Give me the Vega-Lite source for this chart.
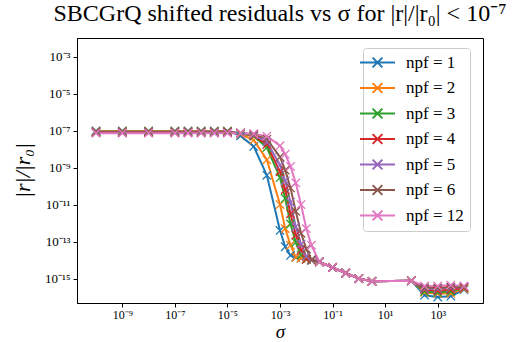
{
"$schema": "https://vega.github.io/schema/vega-lite/v6.json",
"width": 406, "height": 265,
"autosize": {"type": "none"},
"padding": {"left": 77, "top": 38, "right": 42, "bottom": 39},
"background": "white",
"title": {"text": "SBCGrQ shifted residuals vs σ for |r|/|r₀| < 10⁻⁷", "font": "Liberation Serif", "fontSize": 24, "fontWeight": "normal", "color": "black", "offset": 12, "anchor": "middle"},
"config": {"view": {"stroke": "black", "strokeWidth": 1}},
"data": {"values": [
{"sigma":1e-10,"npf":"npf = 1","res":9.55e-8},{"sigma":1e-9,"npf":"npf = 1","res":9.55e-8},{"sigma":1e-8,"npf":"npf = 1","res":9.55e-8},{"sigma":1e-7,"npf":"npf = 1","res":9.55e-8},{"sigma":3.16e-7,"npf":"npf = 1","res":9.55e-8},{"sigma":1e-6,"npf":"npf = 1","res":9.55e-8},{"sigma":3.16e-6,"npf":"npf = 1","res":9.55e-8},{"sigma":1e-5,"npf":"npf = 1","res":9.55e-8},{"sigma":3.16e-5,"npf":"npf = 1","res":5.13e-8},{"sigma":1e-4,"npf":"npf = 1","res":1.38e-8},{"sigma":3.16e-4,"npf":"npf = 1","res":3.8e-10},{"sigma":1e-3,"npf":"npf = 1","res":3.98e-13},{"sigma":1.58e-3,"npf":"npf = 1","res":5.25e-14},{"sigma":2.51e-3,"npf":"npf = 1","res":1.78e-14},{"sigma":3.98e-3,"npf":"npf = 1","res":1.41e-14},{"sigma":6.31e-3,"npf":"npf = 1","res":1.26e-14},{"sigma":1e-2,"npf":"npf = 1","res":1.12e-14},{"sigma":1.58e-2,"npf":"npf = 1","res":1e-14},{"sigma":3.16e-2,"npf":"npf = 1","res":7.94e-15},{"sigma":0.1,"npf":"npf = 1","res":3.98e-15},{"sigma":0.316,"npf":"npf = 1","res":2.0e-15},{"sigma":1,"npf":"npf = 1","res":1e-15},{"sigma":3.16,"npf":"npf = 1","res":7.08e-16},{"sigma":100,"npf":"npf = 1","res":7.59e-16},{"sigma":316,"npf":"npf = 1","res":1.26e-16},{"sigma":1000,"npf":"npf = 1","res":1e-16},{"sigma":3162,"npf":"npf = 1","res":1.12e-16},{"sigma":10000,"npf":"npf = 1","res":2.51e-16},
{"sigma":1e-10,"npf":"npf = 2","res":9.12e-8},{"sigma":1e-9,"npf":"npf = 2","res":9.12e-8},{"sigma":1e-8,"npf":"npf = 2","res":9.12e-8},{"sigma":1e-7,"npf":"npf = 2","res":9.12e-8},{"sigma":3.16e-7,"npf":"npf = 2","res":9.12e-8},{"sigma":1e-6,"npf":"npf = 2","res":9.12e-8},{"sigma":3.16e-6,"npf":"npf = 2","res":9.12e-8},{"sigma":1e-5,"npf":"npf = 2","res":9.12e-8},{"sigma":3.16e-5,"npf":"npf = 2","res":6.31e-8},{"sigma":1e-4,"npf":"npf = 2","res":3.02e-8},{"sigma":3.16e-4,"npf":"npf = 2","res":2.63e-9},{"sigma":1e-3,"npf":"npf = 2","res":1e-11},{"sigma":1.58e-3,"npf":"npf = 2","res":5.01e-13},{"sigma":2.51e-3,"npf":"npf = 2","res":6.31e-14},{"sigma":3.98e-3,"npf":"npf = 2","res":1.41e-14},{"sigma":6.31e-3,"npf":"npf = 2","res":1.26e-14},{"sigma":1e-2,"npf":"npf = 2","res":1.12e-14},{"sigma":1.58e-2,"npf":"npf = 2","res":1e-14},{"sigma":3.16e-2,"npf":"npf = 2","res":7.94e-15},{"sigma":0.1,"npf":"npf = 2","res":3.98e-15},{"sigma":0.316,"npf":"npf = 2","res":2.0e-15},{"sigma":1,"npf":"npf = 2","res":1e-15},{"sigma":3.16,"npf":"npf = 2","res":7.08e-16},{"sigma":100,"npf":"npf = 2","res":7.59e-16},{"sigma":316,"npf":"npf = 2","res":1.78e-16},{"sigma":1000,"npf":"npf = 2","res":1.58e-16},{"sigma":3162,"npf":"npf = 2","res":1.58e-16},{"sigma":10000,"npf":"npf = 2","res":2.82e-16},
{"sigma":1e-10,"npf":"npf = 3","res":8.71e-8},{"sigma":1e-9,"npf":"npf = 3","res":8.71e-8},{"sigma":1e-8,"npf":"npf = 3","res":8.71e-8},{"sigma":1e-7,"npf":"npf = 3","res":8.71e-8},{"sigma":3.16e-7,"npf":"npf = 3","res":8.71e-8},{"sigma":1e-6,"npf":"npf = 3","res":8.71e-8},{"sigma":3.16e-6,"npf":"npf = 3","res":8.71e-8},{"sigma":1e-5,"npf":"npf = 3","res":8.71e-8},{"sigma":3.16e-5,"npf":"npf = 3","res":7.08e-8},{"sigma":1e-4,"npf":"npf = 3","res":4.9e-8},{"sigma":3.16e-4,"npf":"npf = 3","res":1.2e-8},{"sigma":1e-3,"npf":"npf = 3","res":2.82e-10},{"sigma":1.58e-3,"npf":"npf = 3","res":2.14e-11},{"sigma":2.51e-3,"npf":"npf = 3","res":8.91e-13},{"sigma":3.98e-3,"npf":"npf = 3","res":9.12e-14},{"sigma":6.31e-3,"npf":"npf = 3","res":1.86e-14},{"sigma":1e-2,"npf":"npf = 3","res":1.12e-14},{"sigma":1.58e-2,"npf":"npf = 3","res":1e-14},{"sigma":3.16e-2,"npf":"npf = 3","res":7.94e-15},{"sigma":0.1,"npf":"npf = 3","res":3.98e-15},{"sigma":0.316,"npf":"npf = 3","res":2.0e-15},{"sigma":1,"npf":"npf = 3","res":1e-15},{"sigma":3.16,"npf":"npf = 3","res":7.08e-16},{"sigma":100,"npf":"npf = 3","res":7.59e-16},{"sigma":316,"npf":"npf = 3","res":2.0e-16},{"sigma":1000,"npf":"npf = 3","res":1.78e-16},{"sigma":3162,"npf":"npf = 3","res":2.0e-16},{"sigma":10000,"npf":"npf = 3","res":3.16e-16},
{"sigma":1e-10,"npf":"npf = 4","res":8.32e-8},{"sigma":1e-9,"npf":"npf = 4","res":8.32e-8},{"sigma":1e-8,"npf":"npf = 4","res":8.32e-8},{"sigma":1e-7,"npf":"npf = 4","res":8.32e-8},{"sigma":3.16e-7,"npf":"npf = 4","res":8.32e-8},{"sigma":1e-6,"npf":"npf = 4","res":8.32e-8},{"sigma":3.16e-6,"npf":"npf = 4","res":8.32e-8},{"sigma":1e-5,"npf":"npf = 4","res":8.32e-8},{"sigma":3.16e-5,"npf":"npf = 4","res":7.24e-8},{"sigma":1e-4,"npf":"npf = 4","res":5.37e-8},{"sigma":3.16e-4,"npf":"npf = 4","res":1.74e-8},{"sigma":1e-3,"npf":"npf = 4","res":6.03e-10},{"sigma":1.58e-3,"npf":"npf = 4","res":6.31e-11},{"sigma":2.51e-3,"npf":"npf = 4","res":3.16e-12},{"sigma":3.98e-3,"npf":"npf = 4","res":2.24e-13},{"sigma":6.31e-3,"npf":"npf = 4","res":3.47e-14},{"sigma":1e-2,"npf":"npf = 4","res":1.12e-14},{"sigma":1.58e-2,"npf":"npf = 4","res":1e-14},{"sigma":3.16e-2,"npf":"npf = 4","res":7.94e-15},{"sigma":0.1,"npf":"npf = 4","res":3.98e-15},{"sigma":0.316,"npf":"npf = 4","res":2.0e-15},{"sigma":1,"npf":"npf = 4","res":1e-15},{"sigma":3.16,"npf":"npf = 4","res":7.08e-16},{"sigma":100,"npf":"npf = 4","res":7.59e-16},{"sigma":316,"npf":"npf = 4","res":2.51e-16},{"sigma":1000,"npf":"npf = 4","res":2.24e-16},{"sigma":3162,"npf":"npf = 4","res":2.51e-16},{"sigma":10000,"npf":"npf = 4","res":3.16e-16},
{"sigma":1e-10,"npf":"npf = 5","res":7.94e-8},{"sigma":1e-9,"npf":"npf = 5","res":7.94e-8},{"sigma":1e-8,"npf":"npf = 5","res":7.94e-8},{"sigma":1e-7,"npf":"npf = 5","res":7.94e-8},{"sigma":3.16e-7,"npf":"npf = 5","res":7.94e-8},{"sigma":1e-6,"npf":"npf = 5","res":7.94e-8},{"sigma":3.16e-6,"npf":"npf = 5","res":7.94e-8},{"sigma":1e-5,"npf":"npf = 5","res":7.94e-8},{"sigma":3.16e-5,"npf":"npf = 5","res":7.41e-8},{"sigma":1e-4,"npf":"npf = 5","res":5.75e-8},{"sigma":3.16e-4,"npf":"npf = 5","res":2.4e-8},{"sigma":1e-3,"npf":"npf = 5","res":1.38e-9},{"sigma":1.58e-3,"npf":"npf = 5","res":1.91e-10},{"sigma":2.51e-3,"npf":"npf = 5","res":1.32e-11},{"sigma":3.98e-3,"npf":"npf = 5","res":6.31e-13},{"sigma":6.31e-3,"npf":"npf = 5","res":7.24e-14},{"sigma":1e-2,"npf":"npf = 5","res":1.58e-14},{"sigma":1.58e-2,"npf":"npf = 5","res":1e-14},{"sigma":3.16e-2,"npf":"npf = 5","res":7.94e-15},{"sigma":0.1,"npf":"npf = 5","res":3.98e-15},{"sigma":0.316,"npf":"npf = 5","res":2.0e-15},{"sigma":1,"npf":"npf = 5","res":1e-15},{"sigma":3.16,"npf":"npf = 5","res":7.08e-16},{"sigma":100,"npf":"npf = 5","res":7.59e-16},{"sigma":316,"npf":"npf = 5","res":2.82e-16},{"sigma":1000,"npf":"npf = 5","res":2.82e-16},{"sigma":3162,"npf":"npf = 5","res":3.16e-16},{"sigma":10000,"npf":"npf = 5","res":3.55e-16},
{"sigma":1e-10,"npf":"npf = 6","res":7.59e-8},{"sigma":1e-9,"npf":"npf = 6","res":7.59e-8},{"sigma":1e-8,"npf":"npf = 6","res":7.59e-8},{"sigma":1e-7,"npf":"npf = 6","res":7.59e-8},{"sigma":3.16e-7,"npf":"npf = 6","res":7.59e-8},{"sigma":1e-6,"npf":"npf = 6","res":7.59e-8},{"sigma":3.16e-6,"npf":"npf = 6","res":7.59e-8},{"sigma":1e-5,"npf":"npf = 6","res":7.59e-8},{"sigma":3.16e-5,"npf":"npf = 6","res":7.24e-8},{"sigma":1e-4,"npf":"npf = 6","res":6.31e-8},{"sigma":3.16e-4,"npf":"npf = 6","res":3.47e-8},{"sigma":1e-3,"npf":"npf = 6","res":3.72e-9},{"sigma":1.58e-3,"npf":"npf = 6","res":7.24e-10},{"sigma":2.51e-3,"npf":"npf = 6","res":7.94e-11},{"sigma":3.98e-3,"npf":"npf = 6","res":4.27e-12},{"sigma":6.31e-3,"npf":"npf = 6","res":2.82e-13},{"sigma":1e-2,"npf":"npf = 6","res":4.07e-14},{"sigma":1.58e-2,"npf":"npf = 6","res":1.05e-14},{"sigma":3.16e-2,"npf":"npf = 6","res":7.94e-15},{"sigma":0.1,"npf":"npf = 6","res":3.98e-15},{"sigma":0.316,"npf":"npf = 6","res":2.0e-15},{"sigma":1,"npf":"npf = 6","res":1e-15},{"sigma":3.16,"npf":"npf = 6","res":7.08e-16},{"sigma":100,"npf":"npf = 6","res":7.59e-16},{"sigma":316,"npf":"npf = 6","res":3.16e-16},{"sigma":1000,"npf":"npf = 6","res":3.16e-16},{"sigma":3162,"npf":"npf = 6","res":3.55e-16},{"sigma":10000,"npf":"npf = 6","res":3.55e-16},
{"sigma":1e-10,"npf":"npf = 12","res":7.24e-8},{"sigma":1e-9,"npf":"npf = 12","res":7.24e-8},{"sigma":1e-8,"npf":"npf = 12","res":7.24e-8},{"sigma":1e-7,"npf":"npf = 12","res":7.24e-8},{"sigma":3.16e-7,"npf":"npf = 12","res":7.24e-8},{"sigma":1e-6,"npf":"npf = 12","res":7.24e-8},{"sigma":3.16e-6,"npf":"npf = 12","res":7.24e-8},{"sigma":1e-5,"npf":"npf = 12","res":7.24e-8},{"sigma":3.16e-5,"npf":"npf = 12","res":7.08e-8},{"sigma":1e-4,"npf":"npf = 12","res":6.76e-8},{"sigma":3.16e-4,"npf":"npf = 12","res":5.01e-8},{"sigma":1e-3,"npf":"npf = 12","res":1.51e-8},{"sigma":1.58e-3,"npf":"npf = 12","res":5.25e-9},{"sigma":2.51e-3,"npf":"npf = 12","res":1.15e-9},{"sigma":3.98e-3,"npf":"npf = 12","res":1.48e-10},{"sigma":6.31e-3,"npf":"npf = 12","res":1e-11},{"sigma":1e-2,"npf":"npf = 12","res":5.01e-13},{"sigma":1.58e-2,"npf":"npf = 12","res":6.31e-14},{"sigma":3.16e-2,"npf":"npf = 12","res":7.94e-15},{"sigma":0.1,"npf":"npf = 12","res":3.98e-15},{"sigma":0.316,"npf":"npf = 12","res":2.0e-15},{"sigma":1,"npf":"npf = 12","res":1e-15},{"sigma":3.16,"npf":"npf = 12","res":7.08e-16},{"sigma":100,"npf":"npf = 12","res":7.59e-16},{"sigma":316,"npf":"npf = 12","res":3.98e-16},{"sigma":1000,"npf":"npf = 12","res":3.98e-16},{"sigma":3162,"npf":"npf = 12","res":4.47e-16},{"sigma":10000,"npf":"npf = 12","res":3.98e-16}
]},
"mark": {"type": "line", "strokeWidth": 2, "clip": true, "point": {"shape": "M-1,-1L1,1M-1,1L1,-1", "filled": false, "size": 70, "strokeWidth": 1.3}},
"encoding": {
  "x": {"field": "sigma", "type": "quantitative",
    "scale": {"type": "log", "domain": [1.888e-11, 52970], "nice": false},
    "axis": {"values": [1e-9, 1e-7, 1e-5, 1e-3, 0.1, 10, 1000], "grid": false,
      "labelExpr": "'10' + {'-9':'⁻⁹','-7':'⁻⁷','-5':'⁻⁵','-3':'⁻³','-1':'⁻¹','1':'¹','3':'³'}['' + round(log(datum.value)/LN10)]",
      "title": "σ", "titleFont": "Liberation Serif", "titleFontSize": 19, "titleFontStyle": "italic", "titleFontWeight": "normal", "titleColor": "black",
      "titleY": 34, "titleBaseline": "alphabetic",
      "labelFont": "Liberation Serif", "labelFontSize": 12, "labelColor": "black", "labelPadding": 2,
      "tickColor": "black", "tickSize": 4, "domainColor": "black"}},
  "y": {"field": "res", "type": "quantitative",
    "scale": {"type": "log", "domain": [4.79e-17, 0.01], "nice": false},
    "axis": {"values": [1e-15, 1e-13, 1e-11, 1e-9, 1e-7, 1e-5, 1e-3], "grid": false,
      "labelExpr": "'10' + {'-15':'⁻¹⁵','-13':'⁻¹³','-11':'⁻¹¹','-9':'⁻⁹','-7':'⁻⁷','-5':'⁻⁵','-3':'⁻³'}['' + round(log(datum.value)/LN10)]",
      "title": "|r|/|r₀|", "titleFont": "Liberation Serif", "titleFontSize": 22, "titleFontStyle": "italic", "titleFontWeight": "normal", "titleColor": "black",
      "titleX": -55, "titleY": 132, "titleBaseline": "middle", "titleAlign": "center", "titleAngle": -90,
      "labelFont": "Liberation Serif", "labelFontSize": 13, "labelColor": "black", "labelPadding": 3,
      "tickColor": "black", "tickSize": 4, "domainColor": "black"}},
  "color": {"field": "npf", "type": "nominal",
    "scale": {"domain": ["npf = 1", "npf = 2", "npf = 3", "npf = 4", "npf = 5", "npf = 6", "npf = 12"],
      "range": ["#1f77b4", "#ff7f0e", "#2ca02c", "#d62728", "#9467bd", "#8c564b", "#e377c2"]},
    "legend": {"title": null, "orient": "none", "legendX": 286, "legendY": 10,
      "symbolType": "M-2.5,0H2.5M-0.7,-0.7L0.7,0.7M-0.7,0.7L0.7,-0.7", "symbolSize": 196, "symbolStrokeWidth": 2,
      "labelFont": "Liberation Serif", "labelFontSize": 17, "labelColor": "black", "labelOffset": 20,
      "rowPadding": 6.5, "padding": 6, "fillColor": "white", "strokeColor": "#cccccc", "cornerRadius": 3}}
}
}
